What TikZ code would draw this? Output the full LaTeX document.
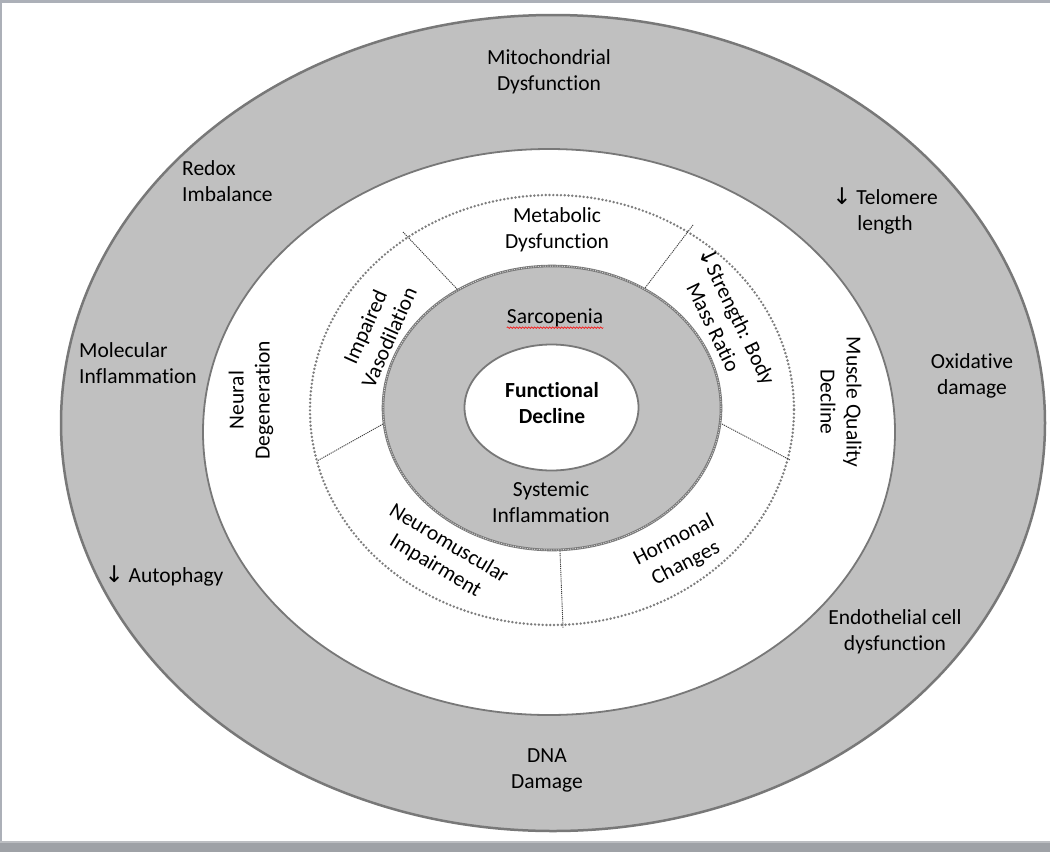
\documentclass[tikz,border=0pt]{standalone}
\usepackage{fontspec}
\setmainfont{Carlito}[Ligatures={NoCommon,NoContextual}]
\newfontfamily\arrowfont{DejaVu Sans}
\usetikzlibrary{decorations.pathmorphing}
\definecolor{ringgray}{RGB}{192,192,192}
\definecolor{edgegray}{RGB}{120,120,120}
\definecolor{dotgray}{RGB}{125,125,125}
\definecolor{framegray}{RGB}{172,176,184}
\definecolor{bandgray}{RGB}{158,161,166}
\tikzset{
	ringtext/.style={align=center, inner sep=0pt, font=\fontsize{21.5}{26}\selectfont},
	divider/.style={line width=0.9pt, black!75, dash pattern=on 1.2pt off 0.9pt}
}
\newcommand{\dnarrow}{{\arrowfont\fontsize{23}{26}\selectfont\char"2193}}

\begin{document}
\begin{tikzpicture}[x=1pt, y=-1pt]

			\useasboundingbox (0,0) rectangle (1050,852);

			% Draw the window frame
			\fill[white] (0,0) rectangle (1050,852);
			\fill[framegray] (0,0) rectangle (1050,3);
			\fill[framegray] (0,0) rectangle (2,852);
			\fill[bandgray] (0,842) rectangle (1050,852);
			\fill[bandgray!70!white] (0,841) rectangle (1050,843);

			% Draw the outer ring
			\filldraw[fill=ringgray, draw=edgegray, line width=2.5pt] (553,423) ellipse [x radius=492, y radius=408];
			\filldraw[fill=white, draw=edgegray, line width=1.8pt] (549,432) ellipse [x radius=346, y radius=283];

			% Draw the dotted ring
			\draw[dotgray, line width=2.7pt, line cap=round, dash pattern=on 0pt off 3.8pt] (552,410) ellipse [x radius=242, y radius=215];

			% Draw the inner ring
			\filldraw[fill=ringgray, draw=edgegray, line width=2.6pt] (552,408) ellipse [x radius=169, y radius=142];
			\draw[ringgray!70!white, line width=1pt, dash pattern=on 1pt off 1.4pt] (552,408) ellipse [x radius=169, y radius=142];
			\filldraw[fill=white, draw=edgegray, line width=1.8pt] (551.5,407.5) ellipse [x radius=87, y radius=63];

			% Draw the dividers
			\draw[divider] (403,232) -- (458,290);
			\draw[divider] (693,225) -- (645,288);
			\draw[divider] (722,424) -- (790,460);
			\draw[divider] (383,424) -- (317,461);
			\draw[divider] (560,551) -- (563,628);

			% Draw the outer labels
			\node[ringtext] (mito) at (549,72) {Mitochondrial\\Dysfunction};
			\node[ringtext, align=left, anchor=west] (redox) at (182,181) {Redox\\Imbalance};
			\node[ringtext] (telo) at (885,211) {\dnarrow\ Telomere\\length};
			\node[ringtext, align=left, anchor=west] (molinf) at (79,363) {Molecular\\Inflammation};
			\node[ringtext] (oxid) at (972,376) {Oxidative\\damage};
			\node[ringtext] (autoph) at (164,576) {\dnarrow\ Autophagy};
			\node[ringtext] (endo) at (895,632) {Endothelial cell\\dysfunction};
			\node[ringtext] (dna) at (547,770) {DNA\\Damage};

			% Draw the middle labels
			\node[ringtext, rotate=90] (neural) at (251,400) {Neural\\Degeneration};
			\node[ringtext, rotate=-90] (muscle) at (841,402) {Muscle Quality\\Decline};
			\node[ringtext] (metab) at (557,230) {Metabolic\\Dysfunction};
			\node[ringtext, rotate=66] (vaso) at (377,332) {Impaired\\Vasodilation};
			\node[ringtext, rotate=-64] (strength) at (726,321) {\dnarrow Strength: Body\\Mass Ratio};
			\node[ringtext, rotate=-31] (neuromusc) at (442,555) {Neuromuscular\\Impairment};
			\node[ringtext, rotate=27] (hormone) at (680,552) {Hormonal\\Changes};

			% Draw the inner labels
			\node[ringtext] (sarc) at (555,318) {Sarcopenia};
			\draw[red, line width=0.6pt, decorate, decoration={snake, amplitude=0.8pt, segment length=3pt}]
				([yshift=-4pt]sarc.base west) -- ([yshift=-4pt]sarc.base east);
			\node[ringtext] (sysinf) at (551,502) {Systemic\\Inflammation};
			\node[ringtext, font=\fontsize{21.5}{26}\selectfont\bfseries] (func) at (552,403) {Functional\\Decline};

		\end{tikzpicture}
\end{document}
